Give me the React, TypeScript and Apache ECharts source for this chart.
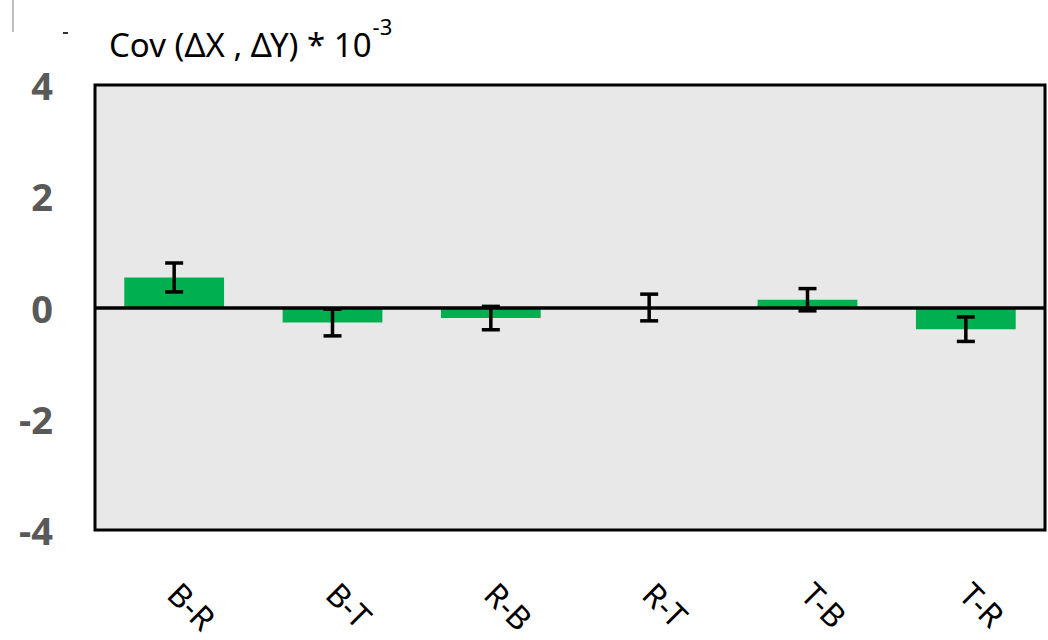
import React, { useEffect, useRef } from "react";
import * as echarts from "echarts";

const categories = ["B-R", "B-T", "R-B", "R-T", "T-B", "T-R"];
const values = [0.54, -0.27, -0.19, 0.0, 0.14, -0.39];
const errors = [0.26, 0.24, 0.21, 0.24, 0.2, 0.22];
const yTicks = { min: -4, max: 4, interval: 2 };

export default function App() {
  const ref = useRef<HTMLDivElement>(null);
  useEffect(() => {
    document.body.style.margin = "0";
    const chart = echarts.init(ref.current!, undefined, { renderer: "svg" });
    const errData = values.map((v, i) => [i, v - errors[i], v + errors[i]]);
    chart.setOption({
      animation: false,
      backgroundColor: "#ffffff",
      grid: {
        left: 95,
        top: 85,
        width: 950,
        height: 445,
        show: true,
        backgroundColor: "#e8e8e8",
        borderColor: "#000000",
        borderWidth: 3,
      },
      graphic: [
        {
          type: "line",
          shape: { x1: 13, y1: 0, x2: 13, y2: 32 },
          style: { stroke: "#bfbfbf", lineWidth: 2 },
        },
        {
          type: "line",
          shape: { x1: 63, y1: 33, x2: 68, y2: 33 },
          style: { stroke: "#333", lineWidth: 2 },
        },
        {
          type: "text",
          left: 109,
          top: 15,
          style: {
            text: "{a|Cov (ΔΧ , ΔΥ) * 10}{b|-3}",
            rich: {
              a: { fontSize: 33, fontFamily: "Noto Sans", fill: "#000", lineHeight: 46, verticalAlign: "bottom" },
              b: { fontSize: 22, fontFamily: "Noto Sans", fill: "#000", lineHeight: 46, verticalAlign: "top", padding: [0, 0, 0, 1] },
            },
          },
        },
      ],
      xAxis: {
        type: "category",
        data: categories,
        axisLine: { show: false, onZero: false },
        axisTick: { show: false },
        splitLine: { show: false },
        axisLabel: {
          rotate: -45,
          margin: 58,
          fontSize: 32,
          fontFamily: "Noto Sans",
          color: "#000",
          interval: 0,
        },
      },
      yAxis: {
        type: "value",
        min: yTicks.min,
        max: yTicks.max,
        interval: yTicks.interval,
        axisLine: { show: false },
        axisTick: { show: false },
        splitLine: { show: false },
        axisLabel: {
          fontSize: 38,
          fontWeight: "bold",
          fontFamily: "Noto Sans",
          color: "#595959",
          margin: 42,
        },
      },
      series: [
        {
          type: "bar",
          data: values,
          barWidth: "63%",
          itemStyle: { color: "#00b050" },
          z: 2,
        },
        {
          type: "custom",
          data: errData,
          z: 5,
          renderItem: (params: any, api: any) => {
            const x = api.value(0);
            const lo = api.coord([x, api.value(1)]);
            const hi = api.coord([x, api.value(2)]);
            const hw = 9;
            const style = { stroke: "#000", lineWidth: 3.5 };
            return {
              type: "group",
              children: [
                { type: "line", shape: { x1: lo[0], y1: lo[1], x2: hi[0], y2: hi[1] }, style },
                { type: "line", shape: { x1: lo[0] - hw, y1: lo[1], x2: lo[0] + hw, y2: lo[1] }, style },
                { type: "line", shape: { x1: hi[0] - hw, y1: hi[1], x2: hi[0] + hw, y2: hi[1] }, style },
              ],
            };
          },
        },
        {
          type: "line",
          data: [],
          z: 10,
          markLine: {
            silent: true,
            symbol: "none",
            label: { show: false },
            lineStyle: { color: "#000", width: 3.5, type: "solid" },
            data: [{ yAxis: 0 }],
          },
        },
      ],
    });
    return () => chart.dispose();
  }, []);
  return <div ref={ref} style={{ width: 1048, height: 640 }} />;
}
